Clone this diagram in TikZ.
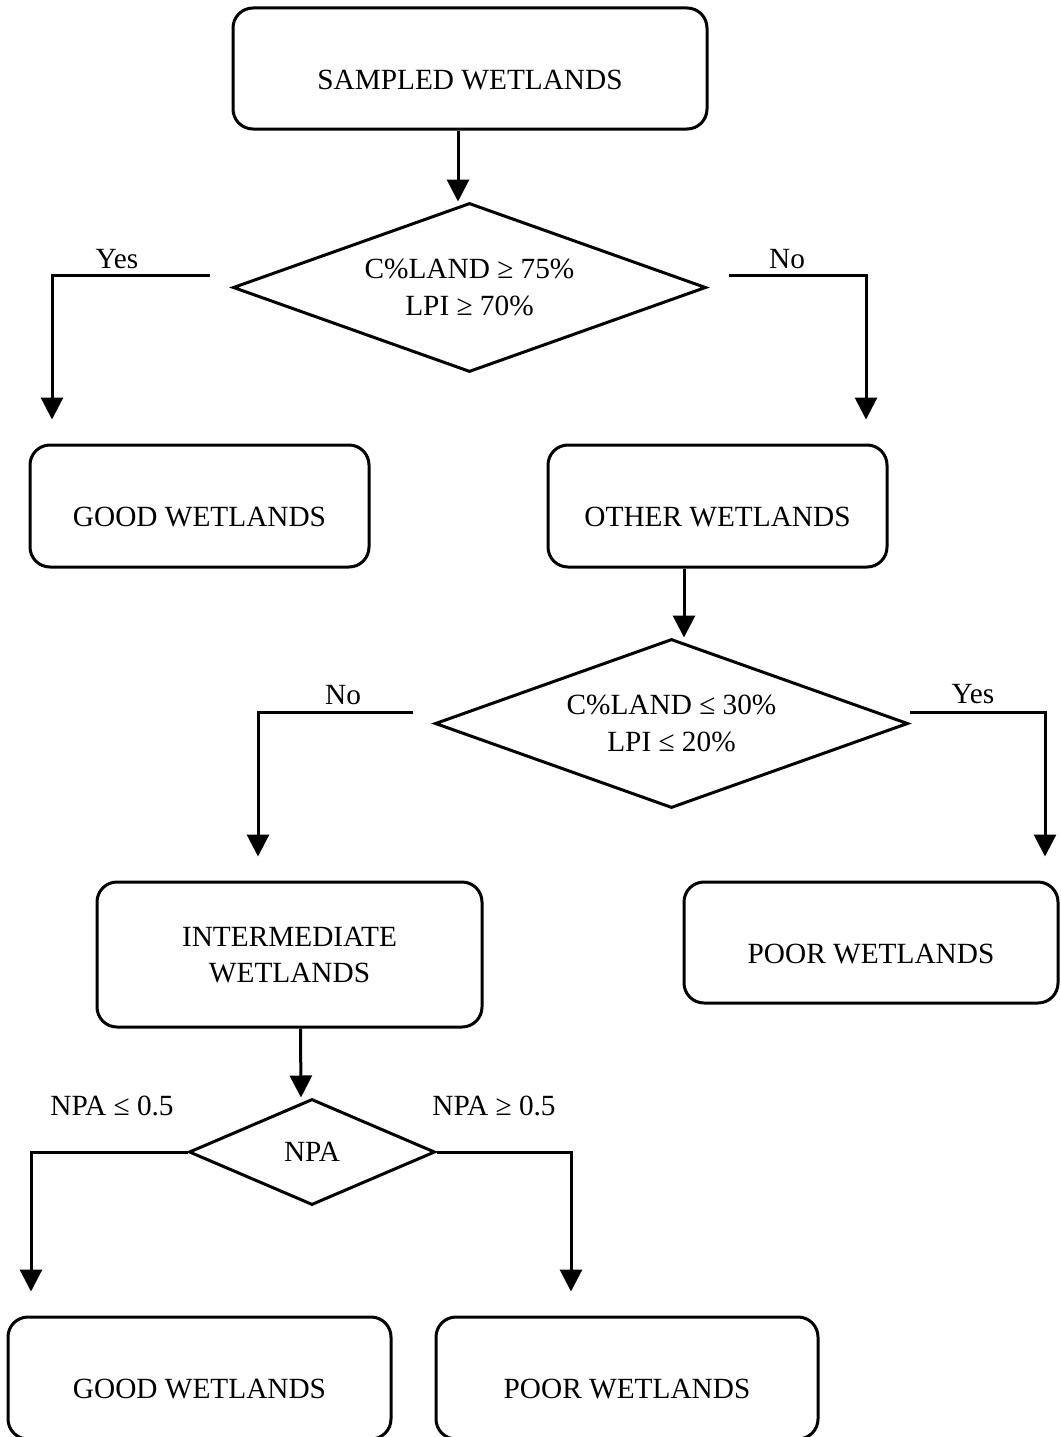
\documentclass[tikz,border=0pt]{standalone}
\usepackage{fontspec}
\setmainfont{Liberation Serif}
\usetikzlibrary{shapes.geometric,arrows.meta}
\begin{document}
\begin{tikzpicture}[x=1pt,y=-1pt,line width=3pt,
  font=\fontsize{29.3}{36.5}\selectfont,
  box/.style={draw, rounded corners=20pt, text height=42pt, inner sep=0pt},
  dec/.style={draw, diamond, aspect=2.8, inner sep=0pt, align=center},
  arr/.style={-{Triangle[length=22pt,width=22pt]}},
  lbl/.style={anchor=base, inner sep=0pt}]
\useasboundingbox (0,0) rectangle (1060,1437);

% boxes and decisions
\node[box, minimum width=474pt, minimum height=121pt] (sampled) at (470,68.5) {SAMPLED WETLANDS};
\node[dec, minimum width=473pt, minimum height=169pt] (d1) at (469.5,287.5) {C\%LAND ≥ 75\%\\LPI ≥ 70\%};
\node[box, minimum width=339pt, minimum height=122pt] (good1) at (199.5,506) {GOOD WETLANDS};
\node[box, minimum width=339pt, minimum height=122pt] (other) at (717.5,506) {OTHER WETLANDS};
\node[dec, minimum width=473pt, minimum height=169pt] (d2) at (671.5,723.5) {C\%LAND ≤ 30\%\\LPI ≤ 20\%};
\node[box, minimum width=385pt, minimum height=145pt, align=center, text height=57pt] (inter) at (289.5,954.5) {INTERMEDIATE\\WETLANDS};
\node[box, minimum width=374pt, minimum height=121pt] (poor1) at (871,942.5) {POOR WETLANDS};
\node[dec, aspect=2.3, minimum width=246pt, minimum height=106pt] (d3) at (312,1152) {NPA};
\node[box, minimum width=383pt, minimum height=122pt] (good2) at (199.5,1378) {GOOD WETLANDS};
\node[box, minimum width=382pt, minimum height=122pt] (poor2) at (627,1378) {POOR WETLANDS};

% connectors
\draw[arr] ([xshift=-12pt]sampled.south) -- ([xshift=-11.5pt]d1.north);
\draw[arr] ([xshift=-21.5pt,yshift=12pt]d1.west) -| ([xshift=-147.5pt,yshift=24pt]good1.north);
\draw[arr] ([xshift=21.5pt,yshift=12pt]d1.east) -| ([xshift=148.5pt,yshift=24pt]other.north);
\draw[arr] ([xshift=-33.5pt]other.south) -- ([xshift=12.5pt]d2.north);
\draw[arr] ([xshift=-21pt,yshift=11.5pt]d2.west) -| ([xshift=-31.5pt,yshift=24pt]inter.north);
\draw[arr] ([yshift=11.5pt]d2.east) -| ([xshift=174pt,yshift=24pt]poor1.north);
\draw[arr] ([xshift=11pt]inter.south) -- ([xshift=-11pt]d3.north);
\draw[arr] (d3.west) -| ([xshift=-168.5pt,yshift=24pt]good2.north);
\draw[arr] (d3.east) -| ([xshift=-56pt,yshift=24pt]poor2.north);

% branch labels
\node[lbl] (lyes1) at (117,268) {Yes};
\node[lbl] (lno1) at (787,268) {No};
\node[lbl] (lno2) at (343,704) {No};
\node[lbl] (lyes2) at (973,703) {Yes};
\node[lbl] (lnpa1) at (112,1115) {NPA ≤ 0.5};
\node[lbl] (lnpa2) at (494,1115) {NPA ≥ 0.5};
\end{tikzpicture}
\end{document}
